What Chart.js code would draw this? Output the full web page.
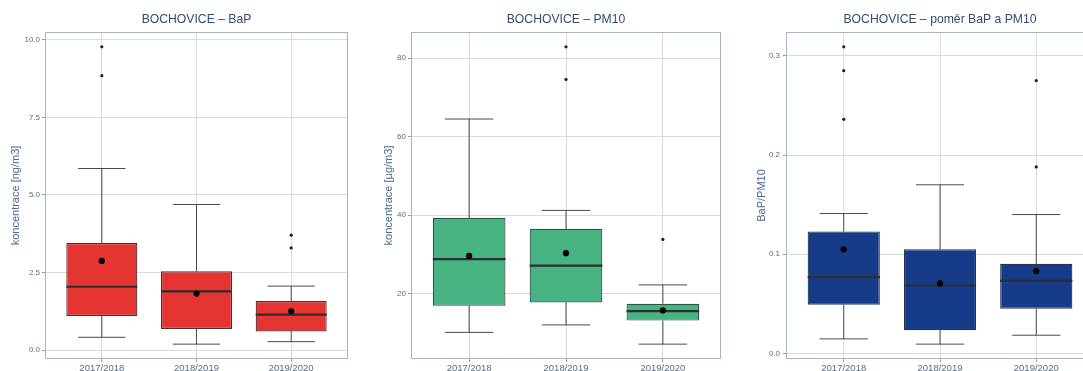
<!DOCTYPE html>
<html>
<head>
<meta charset="utf-8">
<script src="https://cdn.jsdelivr.net/npm/chart.js@4.4.1/dist/chart.umd.min.js"></script>
<style>
  html, body { margin: 0; padding: 0; background: #ffffff; width: 1083px; height: 371px; overflow: hidden; }
  canvas { position: absolute; top: 0; }
</style>
</head>
<body>
<canvas id="chartBap" width="352" height="371" style="left:0px"></canvas>
<canvas id="chartPm" width="365" height="371" style="left:360px"></canvas>
<canvas id="chartRatio" width="368" height="371" style="left:730px"></canvas>
<script>
// Heating seasons on the x axis
const seasons = ['2017/2018', '2018/2019', '2019/2020'];

// BaP [ng/m3] – box-plot statistics per season
const bapLow  = [0.41, 0.19, 0.27];
const bapQ1   = [1.10, 0.68, 0.60];
const bapMed  = [2.04, 1.89, 1.14];
const bapQ3   = [3.45, 2.54, 1.58];
const bapHigh = [5.85, 4.69, 2.06];
const bapMean = [2.87, 1.82, 1.25];
const bapOut  = [[9.77, 8.84], [], [3.70, 3.29]];
const bapTicks = [0, 2.5, 5, 7.5, 10];

// PM10 [µg/m3]
const pmLow  = [10.1, 12.0, 7.1];
const pmQ1   = [16.9, 17.7, 13.1];
const pmMed  = [28.8, 27.1, 15.5];
const pmQ3   = [39.3, 36.5, 17.4];
const pmHigh = [64.5, 41.2, 22.2];
const pmMean = [29.6, 30.3, 15.7];
const pmOut  = [[], [82.9, 74.6], [33.8]];
const pmTicks = [20, 40, 60, 80];

// BaP / PM10 ratio
const ratioLow  = [0.0147, 0.0094, 0.0184];
const ratioQ1   = [0.049, 0.0235, 0.045];
const ratioMed  = [0.077, 0.0685, 0.0732];
const ratioQ3   = [0.123, 0.105, 0.0903];
const ratioHigh = [0.141, 0.170, 0.140];
const ratioMean = [0.105, 0.0706, 0.083];
const ratioOut  = [[0.309, 0.285, 0.236], [], [0.275, 0.188]];
const ratioTicks = [0, 0.1, 0.2, 0.3];

Chart.defaults.font.family = "'Liberation Sans', Arial, sans-serif";

const BOX_WIDTH = 0.75;   // box width in category units
const CAP_HALF = 0.25;    // half width of whisker caps
const GRID = '#dadada';
const TICK_MARK = '#8f99a6';
const FRAME = '#a9b3c1';
const TITLE_COLOR = '#354d72';
const AXIS_TITLE_COLOR = '#4a6893';
const TICK_COLOR = '#5d6a7c';

// Panel frame around the plotting area
const framePlugin = {
  id: 'frame',
  afterDraw(chart) {
    const a = chart.chartArea;
    const ctx = chart.ctx;
    ctx.save();
    ctx.strokeStyle = FRAME;
    ctx.lineWidth = 1;
    const l = Math.round(a.left) + 0.5, t = Math.round(a.top) + 0.5;
    const r = Math.round(a.right) - 0.5, b = Math.round(a.bottom) - 0.5;
    ctx.strokeRect(l, t, r - l, b - t);
    ctx.restore();
  }
};

function boxChart(id, s) {
  const all = [].concat(s.low, s.high, ...s.out);
  const lo = Math.min(...all), hi = Math.max(...all);
  const pad = (hi - lo) * 0.05;

  const whiskers = [];
  const medians = [];
  const outliers = [];
  seasons.forEach((_, i) => {
    whiskers.push(
      {x: i, y: s.q3[i]}, {x: i, y: s.high[i]}, {x: i, y: null},
      {x: i - CAP_HALF, y: s.high[i]}, {x: i + CAP_HALF, y: s.high[i]}, {x: i, y: null},
      {x: i, y: s.low[i]}, {x: i, y: s.q1[i]}, {x: i, y: null},
      {x: i - CAP_HALF, y: s.low[i]}, {x: i + CAP_HALF, y: s.low[i]}, {x: i, y: null}
    );
    medians.push({x: i - BOX_WIDTH / 2, y: s.med[i]}, {x: i + BOX_WIDTH / 2, y: s.med[i]}, {x: i, y: null});
    s.out[i].forEach(v => outliers.push({x: i, y: v}));
  });

  return new Chart(document.getElementById(id), {
    type: 'bar',
    data: {
      datasets: [
        {
          type: 'scatter', order: 4, data: whiskers, showLine: true, spanGaps: false,
          borderColor: '#4a4a4a', borderWidth: 1, pointRadius: 0
        },
        {
          type: 'bar', order: 3,
          data: seasons.map((_, i) => ({x: i, y: [s.q1[i], s.q3[i]]})),
          backgroundColor: s.fill, borderColor: s.edge, borderWidth: 1.2, borderSkipped: false,
          barPercentage: BOX_WIDTH, categoryPercentage: 1
        },
        {
          type: 'scatter', order: 2, data: medians, showLine: true, spanGaps: false,
          borderColor: '#2e2e2e', borderWidth: 2.2, pointRadius: 0
        },
        {
          type: 'scatter', order: 1, data: outliers,
          pointRadius: 1.6, pointBackgroundColor: '#1e1e1e', pointBorderWidth: 0
        },
        {
          type: 'scatter', order: 0,
          data: seasons.map((_, i) => ({x: i, y: s.mean[i]})),
          pointRadius: 3.1, pointBackgroundColor: '#000000', pointBorderWidth: 0
        }
      ]
    },
    options: {
      responsive: false,
      animation: false,
      events: [],
      layout: {padding: {left: 0, right: s.padRight, top: 0, bottom: 0}},
      plugins: {
        legend: {display: false},
        tooltip: {enabled: false},
        title: {
          display: true, text: s.title, fullSize: false, color: TITLE_COLOR,
          font: {size: 12.2, weight: 'normal'},
          padding: {top: 12.5, bottom: 4.86}
        }
      },
      scales: {
        x: {
          type: 'linear', min: -0.6, max: 2.6, offset: false,
          afterBuildTicks: sc => { sc.ticks = seasons.map((_, i) => ({value: i})); },
          afterFit: sc => { sc.height = 12; },
          ticks: {
            callback: v => seasons[v], color: TICK_COLOR, font: {size: 9.5},
            padding: 1, maxRotation: 0, autoSkip: false
          },
          grid: {color: GRID, tickColor: TICK_MARK, tickLength: 3, lineWidth: 1, offset: false},
          border: {display: false}
        },
        y: {
          min: lo - pad, max: hi + pad,
          afterBuildTicks: sc => { sc.ticks = s.ticks.map(v => ({value: v})); },
          afterFit: sc => { sc.width = s.axisWidth; },
          ticks: {
            callback: v => v.toFixed(s.decimals), color: TICK_COLOR, font: {size: 8},
            padding: s.tickPad
          },
          grid: {color: GRID, tickColor: TICK_MARK, tickLength: 3, lineWidth: 1},
          border: {display: false},
          title: {
            display: true, text: s.yTitle, color: AXIS_TITLE_COLOR,
            font: {size: 11}, padding: {top: s.titlePad, bottom: 0}
          }
        }
      }
    },
    plugins: [framePlugin]
  });
}

boxChart('chartBap', {
  title: 'BOCHOVICE – BaP', yTitle: 'koncentrace [ng/m3]',
  low: bapLow, q1: bapQ1, med: bapMed, q3: bapQ3, high: bapHigh, mean: bapMean, out: bapOut,
  ticks: bapTicks, decimals: 1, fill: '#e53532', edge: '#5a2a28',
  axisWidth: 45, tickPad: 2, titlePad: 9.4, padRight: 3
});

boxChart('chartPm', {
  title: 'BOCHOVICE – PM10', yTitle: 'koncentrace [µg/m3]',
  low: pmLow, q1: pmQ1, med: pmMed, q3: pmQ3, high: pmHigh, mean: pmMean, out: pmOut,
  ticks: pmTicks, decimals: 0, fill: '#47b282', edge: '#2f5544',
  axisWidth: 51, tickPad: 2, titlePad: 22.7, padRight: 3
});

boxChart('chartRatio', {
  title: 'BOCHOVICE – poměr BaP a PM10', yTitle: 'BaP/PM10',
  low: ratioLow, q1: ratioQ1, med: ratioMed, q3: ratioQ3, high: ratioHigh, mean: ratioMean, out: ratioOut,
  ticks: ratioTicks, decimals: 1, fill: '#163b88', edge: '#2a3550',
  axisWidth: 56, tickPad: 3, titlePad: 25.4, padRight: 3
});
</script>
</body>
</html>
